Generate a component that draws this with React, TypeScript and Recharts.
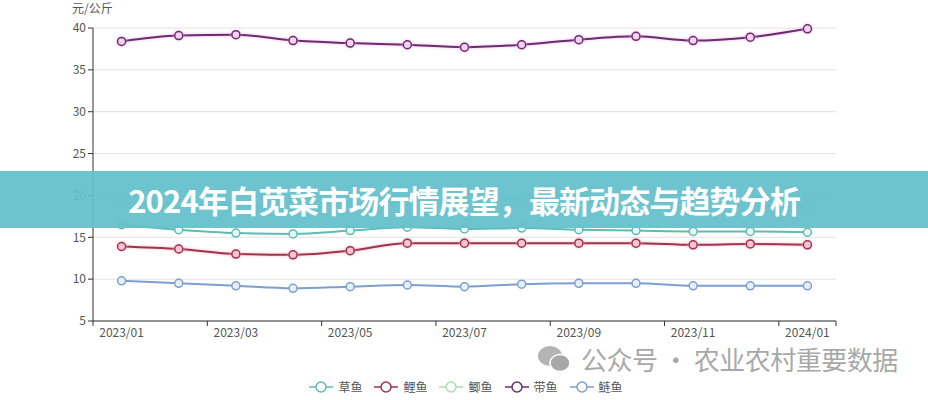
import { LineChart, Line, XAxis, YAxis, CartesianGrid } from 'recharts';

// months on the x axis
const months = [
  '2023/01', '2023/02', '2023/03', '2023/04', '2023/05', '2023/06', '2023/07',
  '2023/08', '2023/09', '2023/10', '2023/11', '2023/12', '2024/01',
];

// prices, 元/公斤
const caoyu = [16.5, 15.9, 15.5, 15.4, 15.8, 16.2, 16.0, 16.1, 15.9, 15.8, 15.7, 15.7, 15.6];
const liyu = [13.9, 13.6, 13.0, 12.9, 13.4, 14.3, 14.3, 14.3, 14.3, 14.3, 14.1, 14.2, 14.1];
const jiyu = [19.1, 19.0, 18.8, 18.7, 18.9, 19.2, 19.4, 19.6, 19.5, 19.3, 19.0, 18.8, 18.6];
const daiyu = [38.4, 39.1, 39.2, 38.5, 38.2, 38.0, 37.7, 38.0, 38.6, 39.0, 38.5, 38.9, 39.9];
const lianyu = [9.8, 9.5, 9.2, 8.9, 9.1, 9.3, 9.1, 9.4, 9.5, 9.5, 9.2, 9.2, 9.2];

const yTicks = [5, 10, 15, 20, 25, 30, 35, 40];

const series = [
  { key: 'caoyu', name: '草鱼', color: '#5dbcb4', fill: '#eaf7f5', glow: '' },
  { key: 'liyu', name: '鲤鱼', color: '#a3324f', fill: '#f4c6d3', glow: 'drop-shadow(0 0 1.5px #f2b8c8)' },
  { key: 'jiyu', name: '鲫鱼', color: '#a9dfb5', fill: '#f2fbf4', glow: '' },
  { key: 'daiyu', name: '带鱼', color: '#6b2d6e', fill: '#f3d3ef', glow: 'drop-shadow(0 0 1.5px #eeb4ee)' },
  { key: 'lianyu', name: '鲢鱼', color: '#7d9fd0', fill: '#e8f0f6', glow: '' },
];

const data = months.map((m, i) => ({
  month: m,
  caoyu: caoyu[i],
  liyu: liyu[i],
  jiyu: jiyu[i],
  daiyu: daiyu[i],
  lianyu: lianyu[i],
}));

const FONT = '"Noto Sans CJK SC", "Noto Sans", sans-serif';

// label on every other month, tick marks on the band edges
function MonthTick(props: any) {
  const { x, y, payload, index } = props;
  const half = payload.offset || 0;
  const last = index === months.length - 1;
  return (
    <g>
      {index % 2 === 0 && <line x1={x - half} x2={x - half} y1={y - 8} y2={y - 3} stroke="#333" />}
      {last && <line x1={x + half} x2={x + half} y1={y - 8} y2={y - 3} stroke="#333" />}
      {index % 2 === 0 && (
        <text x={x} y={y + 8} textAnchor="middle" fill="#555" fontSize={12} fontFamily={FONT}>
          {payload.value}
        </text>
      )}
    </g>
  );
}

function LegendRow() {
  return (
    <div
      style={{
        position: 'absolute',
        top: 378,
        left: 2,
        width: 928,
        display: 'flex',
        justifyContent: 'center',
        gap: 12,
        fontFamily: FONT,
        fontSize: 12,
        color: '#555',
      }}
    >
      {series.map((s) => (
        <div key={s.key} style={{ display: 'flex', alignItems: 'center', gap: 5 }}>
          <svg width={24} height={14}>
            <line x1={0} x2={24} y1={7} y2={7} stroke={s.color} strokeWidth={1.5} />
            <circle cx={12} cy={7} r={5} stroke={s.color} strokeWidth={1.5} fill="#fff" />
          </svg>
          <span>{s.name}</span>
        </div>
      ))}
    </div>
  );
}

export default function App() {
  return (
    <div style={{ position: 'absolute', left: 0, top: 0, width: 928, height: 400, background: '#fff', overflow: 'hidden' }}>
      <div style={{ position: 'absolute', left: 72, top: -1, fontFamily: FONT, fontSize: 12, color: '#555' }}>元/公斤</div>
      <LineChart width={928} height={400} data={data} margin={{ top: 28, right: 92, bottom: 49, left: 0 }}>
        <CartesianGrid vertical={false} stroke="#e3e3e3" />
        <XAxis
          dataKey="month"
          scale="band"
          interval={0}
          height={30}
          tickLine={false}
          axisLine={{ stroke: '#333' }}
          tick={<MonthTick />}
        />
        <YAxis
          width={93}
          domain={[5, 40]}
          ticks={yTicks}
          interval={0}
          axisLine={{ stroke: '#333' }}
          tickLine={{ stroke: '#333' }}
          tickSize={5}
          tick={{ fill: '#555', fontSize: 12, fontFamily: FONT }}
        />
        {series.map((s) => (
          <Line
            key={s.key}
            type="monotone"
            dataKey={s.key}
            name={s.name}
            stroke={s.color}
            strokeWidth={2}
            style={s.glow ? { filter: s.glow } : undefined}
            dot={{ r: 4, stroke: s.color, strokeWidth: 1.5, fill: s.fill }}
            isAnimationActive={false}
          />
        ))}
      </LineChart>
      <LegendRow />
      <div
        style={{
          position: 'absolute',
          left: 0,
          top: 171,
          width: 928,
          height: 57,
          background: 'rgba(98,191,203,0.93)',
          display: 'flex',
          alignItems: 'center',
          justifyContent: 'center',
          color: '#fff',
          fontFamily: FONT,
          fontWeight: 700,
          fontSize: 31,
          letterSpacing: -0.9,
        }}
      >
        2024年白苋菜市场行情展望，最新动态与趋势分析
      </div>
      <div
        style={{
          position: 'absolute',
          left: 537,
          top: 345,
          display: 'flex',
          alignItems: 'center',
          gap: 10,
          fontFamily: FONT,
          fontSize: 26,
          lineHeight: '26px',
          color: '#a8a8a8',
        }}
      >
        <svg width={34} height={28}>
          <ellipse cx={13} cy={11} rx={12} ry={10} fill="#b4b4b4" />
          <ellipse cx={23} cy={18} rx={10} ry={8.5} fill="#a8a8a8" stroke="#fff" strokeWidth={1.5} />
        </svg>
        <span style={{ letterSpacing: -0.5 }}>公众号 · 农业农村重要数据</span>
      </div>
    </div>
  );
}
